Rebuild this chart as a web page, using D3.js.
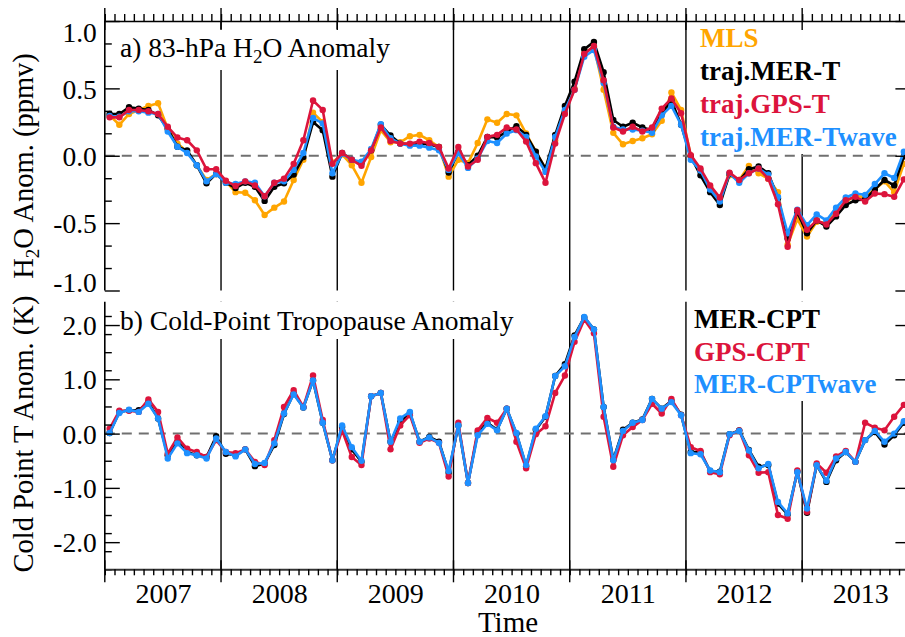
<!doctype html>
<html>
<head>
<style>
  body { margin: 0; background: #fff; }
  svg { display: block; }
  text { font-family: "Liberation Serif", "Times New Roman", serif; }
</style>
<script src="https://d3js.org/d3.v7.min.js"></script>
</head>
<body>
<svg width="905" height="637"></svg>
<script>
// ---- data (monthly anomalies, Jan 2007 - Dec 2013) ----
var startYear = 2007, endYear = 2014;
var yearLabels = ["2007", "2008", "2009", "2010", "2011", "2012", "2013"];
var ticksA = [-1.0, -0.5, 0.0, 0.5, 1.0];
var ticksB = [-2.0, -1.0, 0.0, 1.0, 2.0];

var mls = [
  0.30, 0.23, 0.31, 0.34, 0.37, 0.39, 0.20, 0.09, 0.03, -0.07, -0.18, -0.135,
  -0.19, -0.27, -0.275, -0.33, -0.44, -0.385, -0.34, -0.18, -0.03, 0.32, 0.25, -0.05,
  0.01, -0.07, -0.20, -0.01, 0.19, 0.10, 0.10, 0.145, 0.155, 0.115, 0.065, -0.155,
  -0.03, -0.055, 0.095, 0.27, 0.245, 0.31, 0.30, 0.165, 0.03, -0.095, 0.115, 0.33,
  0.50, 0.76, 0.81, 0.49, 0.17, 0.085, 0.11, 0.13, 0.16, 0.26, 0.47, 0.34,
  0.0, -0.105, -0.23, -0.33, -0.145, -0.18, -0.075, -0.13, -0.17, -0.27, -0.66, -0.47,
  -0.60, -0.49, -0.50, -0.415, -0.34, -0.30, -0.305, -0.25, -0.19, -0.27, -0.06, 0.02
];
var merT = [
  0.31, 0.31, 0.36, 0.35, 0.34, 0.30, 0.20, 0.067, 0.04, -0.07, -0.205, -0.135,
  -0.20, -0.24, -0.20, -0.23, -0.335, -0.23, -0.205, -0.14, -0.01, 0.25, 0.19, -0.155,
  0.02, -0.03, -0.055, 0.04, 0.23, 0.15, 0.09, 0.085, 0.09, 0.085, 0.065, -0.125,
  0.03, -0.07, 0.0, 0.14, 0.135, 0.18, 0.22, 0.155, 0.03, -0.095, 0.155, 0.37,
  0.55, 0.79, 0.845, 0.62, 0.265, 0.215, 0.245, 0.21, 0.19, 0.315, 0.41, 0.23,
  -0.005, -0.145, -0.27, -0.365, -0.135, -0.185, -0.10, -0.08, -0.13, -0.315, -0.615, -0.42,
  -0.575, -0.48, -0.525, -0.45, -0.365, -0.33, -0.325, -0.25, -0.18, -0.22, -0.005, 0.05
];
var gpsT = [
  0.285, 0.285, 0.34, 0.34, 0.33, 0.31, 0.215, 0.135, 0.115, 0.04, -0.10, -0.10,
  -0.185, -0.225, -0.19, -0.22, -0.30, -0.20, -0.17, -0.06, 0.115, 0.41, 0.34, -0.06,
  0.02, -0.03, -0.075, 0.04, 0.21, 0.11, 0.09, 0.09, 0.105, 0.095, 0.065, -0.095,
  0.065, -0.08, -0.03, 0.14, 0.155, 0.21, 0.195, 0.105, -0.055, -0.20, 0.09, 0.31,
  0.49, 0.755, 0.815, 0.56, 0.21, 0.18, 0.215, 0.18, 0.21, 0.35, 0.425, 0.315,
  0.005, -0.095, -0.22, -0.31, -0.125, -0.18, -0.13, -0.095, -0.17, -0.36, -0.675, -0.405,
  -0.55, -0.48, -0.51, -0.43, -0.33, -0.305, -0.34, -0.28, -0.285, -0.305, -0.175, -0.12
];
var merTwave = [
  0.295, 0.29, 0.33, 0.33, 0.32, 0.31, 0.18, 0.067, 0.02, -0.07, -0.19, -0.135,
  -0.20, -0.21, -0.19, -0.20, -0.30, -0.20, -0.19, -0.105, 0.02, 0.28, 0.24, -0.13,
  0.015, -0.03, -0.045, 0.05, 0.235, 0.13, 0.09, 0.075, 0.075, 0.06, 0.04, -0.105,
  0.02, -0.09, -0.02, 0.11, 0.095, 0.165, 0.19, 0.14, -0.005, -0.12, 0.14, 0.34,
  0.49, 0.735, 0.785, 0.54, 0.215, 0.195, 0.195, 0.185, 0.17, 0.30, 0.37, 0.23,
  -0.03, -0.11, -0.25, -0.34, -0.13, -0.20, -0.13, -0.095, -0.14, -0.305, -0.575, -0.40,
  -0.515, -0.435, -0.48, -0.385, -0.31, -0.28, -0.29, -0.21, -0.13, -0.165, 0.03, 0.09
];

var merCPT = [
  0.01, 0.40, 0.43, 0.43, 0.58, 0.28, -0.40, -0.15, -0.34, -0.40, -0.43, -0.05,
  -0.37, -0.40, -0.29, -0.60, -0.55, -0.21, 0.36, 0.74, 0.48, 0.98, 0.20, -0.49,
  0.12, -0.29, -0.52, 0.69, 0.75, -0.15, 0.21, 0.38, -0.15, -0.06, -0.15, -0.72,
  0.15, -0.91, 0.01, 0.20, 0.07, 0.46, 0.0, -0.60, 0.07, 0.31, 1.06, 1.28,
  1.81, 2.14, 1.92, 0.49, -0.48, 0.07, 0.20, 0.26, 0.64, 0.46, 0.60, 0.35,
  -0.34, -0.34, -0.69, -0.70, -0.01, 0.06, -0.30, -0.61, -0.58, -1.29, -1.49, -0.70,
  -1.46, -0.58, -0.89, -0.49, -0.34, -0.52, -0.12, 0.03, -0.20, -0.03, 0.20, 0.33
];
var gpsCPT = [
  0.09, 0.42, 0.42, 0.40, 0.63, 0.40, -0.37, -0.07, -0.28, -0.34, -0.43, -0.12,
  -0.34, -0.36, -0.29, -0.52, -0.58, -0.12, 0.49, 0.80, 0.49, 1.07, 0.25, -0.49,
  0.06, -0.43, -0.58, 0.69, 0.75, -0.29, 0.15, 0.34, -0.17, -0.09, -0.17, -0.79,
  0.20, -0.91, 0.06, 0.29, 0.20, 0.46, -0.15, -0.64, -0.01, 0.135, 0.75, 1.07,
  1.69, 2.10, 1.85, 0.31, -0.61, -0.03, 0.12, 0.25, 0.55, 0.37, 0.64, 0.34,
  -0.25, -0.32, -0.71, -0.75, -0.03, 0.06, -0.40, -0.72, -0.71, -1.50, -1.57, -0.68,
  -1.44, -0.55, -0.72, -0.42, -0.32, -0.52, 0.20, 0.11, 0.06, 0.31, 0.53, 0.62
];
var merCPTwave = [
  0.01, 0.38, 0.44, 0.40, 0.55, 0.28, -0.46, -0.18, -0.36, -0.40, -0.46, -0.09,
  -0.34, -0.42, -0.29, -0.56, -0.54, -0.18, 0.37, 0.72, 0.48, 0.98, 0.20, -0.49,
  0.15, -0.25, -0.50, 0.69, 0.75, -0.15, 0.28, 0.40, -0.15, -0.07, -0.17, -0.69,
  0.15, -0.91, -0.03, 0.18, 0.06, 0.46, 0.01, -0.58, 0.09, 0.32, 1.06, 1.24,
  1.78, 2.15, 1.92, 0.49, -0.49, 0.05, 0.20, 0.25, 0.64, 0.46, 0.58, 0.34,
  -0.36, -0.38, -0.68, -0.71, -0.01, 0.05, -0.31, -0.64, -0.56, -1.26, -1.47, -0.71,
  -1.38, -0.58, -0.87, -0.46, -0.34, -0.52, -0.12, 0.05, -0.15, 0.0, 0.23, 0.35
];

// mid-month time of each sample
var months = mls.map(function(d, i) { return startYear + (i + 0.5) / 12; });

var seriesA = [
  { name: "MLS", values: mls, color: "#ffa500" },
  { name: "traj.MER-T", values: merT, color: "#000000" },
  { name: "traj.GPS-T", values: gpsT, color: "#dc143c" },
  { name: "traj.MER-Twave", values: merTwave, color: "#1e90ff" }
];
var drawOrderA = [0, 1, 3, 2];
var seriesB = [
  { name: "MER-CPT", values: merCPT, color: "#000000" },
  { name: "GPS-CPT", values: gpsCPT, color: "#dc143c" },
  { name: "MER-CPTwave", values: merCPTwave, color: "#1e90ff" }
];

// ---- layout ----
var svg = d3.select("svg");
var x = d3.scaleLinear().domain([startYear, endYear]).range([104.8, 918.4]);
var yA = d3.scaleLinear().domain([-1, 1]).range([290.5, 21]);
var yB = d3.scaleLinear().domain([-2.5, 2.43]).range([569.3, 301.7]);

var monthTicks = d3.range(startYear * 12, endYear * 12 + 1).map(function(m) { return m / 12; });
var yearTicks = d3.range(startYear, endYear + 1);
var innerYears = d3.range(startYear + 1, endYear);

var gLines = svg.append("g");
var gBoxes = svg.append("g");
var gZero = svg.append("g");
var gData = svg.append("g");
var gAxes = svg.append("g");
var gText = svg.append("g");

function fmt(d) { return d.toFixed(1); }

function panel(y, series, order, ticks, minorStep, opts) {
    var y0 = y.range()[0], y1 = y.range()[1];

    // year separators
    gLines.selectAll(null).data(innerYears).enter().append("line")
        .attr("x1", function(d) { return x(d); }).attr("x2", function(d) { return x(d); })
        .attr("y1", y1).attr("y2", y0)
        .attr("stroke", "#000").attr("stroke-width", 1.4);

    // zero line
    gZero.append("line")
        .attr("x1", x.range()[0]).attr("x2", x.range()[1])
        .attr("y1", y(0)).attr("y2", y(0))
        .attr("stroke", "#707070").attr("stroke-width", 2)
        .attr("stroke-dasharray", "10,7");

    // series
    var line = d3.line().x(function(d, i) { return x(months[i]); }).y(function(d) { return y(d); });
    order.forEach(function(k) {
        var s = series[k];
        var g = gData.append("g");
        g.append("path").datum(s.values)
            .attr("d", line).attr("fill", "none")
            .attr("stroke", s.color).attr("stroke-width", 2.6)
            .attr("stroke-linejoin", "round");
        g.selectAll("circle").data(s.values).enter().append("circle")
            .attr("cx", function(d, i) { return x(months[i]); })
            .attr("cy", function(d) { return y(d); })
            .attr("r", 3.2).attr("fill", s.color);
    });

    // left axis (ticks inside)
    var step = ticks[1] - ticks[0];
    var minor = d3.range(y.domain()[0], y.domain()[1] + 1e-6, minorStep)
        .filter(function(v) { return Math.abs(Math.round(v / step) * step - v) > 1e-6; });
    gAxes.append("g").attr("transform", "translate(" + x.range()[0] + ",0)")
        .call(d3.axisLeft(y).tickValues(minor).tickSizeInner(-7).tickSizeOuter(0).tickFormat(""))
        .call(function(g) { g.select(".domain").remove(); })
        .selectAll("line").attr("stroke-width", 1.4);
    var ax = gAxes.append("g").attr("transform", "translate(" + x.range()[0] + ",0)")
        .call(d3.axisLeft(y).tickValues(ticks).tickSizeInner(-15).tickSizeOuter(0).tickPadding(8).tickFormat(fmt));
    ax.attr("font-size", 27.5).attr("font-family", null);
    ax.select(".domain").attr("d", "M0," + y0 + "V" + y1).attr("stroke-width", 1.6);
    ax.selectAll("line").attr("stroke-width", 1.4);
    ax.selectAll("text").attr("dy", function(d) {
        if (opts.shiftEnds && d === y.domain()[1]) return "0.75em";
        if (opts.shiftEnds && d === y.domain()[0]) return "0.05em";
        return "0.35em";
    });

    // right axis (major ticks only)
    gAxes.append("g").attr("transform", "translate(" + x.range()[1] + ",0)")
        .call(d3.axisRight(y).tickValues(ticks).tickSizeInner(-23).tickSizeOuter(0).tickFormat(""))
        .call(function(g) { g.select(".domain").remove(); })
        .selectAll("line").attr("stroke-width", 1.4);
}

panel(yA, seriesA, drawOrderA, ticksA, 0.5 / 3, { shiftEnds: true });
panel(yB, seriesB, [0, 1, 2], ticksB, 1 / 3, { shiftEnds: false });

// top time axis of panel a
var topAx = gAxes.append("g").attr("transform", "translate(0," + yA.range()[1] + ")")
    .call(d3.axisTop(x).tickValues(monthTicks).tickSizeInner(7).tickSizeOuter(0).tickFormat(""));
topAx.select(".domain").attr("stroke-width", 1.6);
topAx.selectAll("line").attr("stroke-width", 1.4);
gAxes.append("g").selectAll("line").data(yearTicks).enter().append("line")
    .attr("x1", function(d) { return x(d); }).attr("x2", function(d) { return x(d); })
    .attr("y1", yA.range()[1] - 13).attr("y2", yA.range()[1] + 9)
    .attr("stroke", "#000").attr("stroke-width", 1.4);

// bottom time axis of panel b
var botAx = gAxes.append("g").attr("transform", "translate(0," + yB.range()[0] + ")")
    .call(d3.axisBottom(x).tickValues(monthTicks).tickSizeInner(6).tickSizeOuter(0).tickFormat(""));
botAx.select(".domain").attr("stroke", "#333").attr("stroke-width", 2);
botAx.selectAll("line").attr("stroke-width", 1.4);
gAxes.append("g").selectAll("line").data(yearTicks).enter().append("line")
    .attr("x1", function(d) { return x(d); }).attr("x2", function(d) { return x(d); })
    .attr("y1", yB.range()[0] - 9).attr("y2", yB.range()[0] + 13)
    .attr("stroke", "#000").attr("stroke-width", 1.4);

var yrAx = gAxes.append("g").attr("transform", "translate(0," + yB.range()[0] + ")")
    .call(d3.axisBottom(x).tickValues(yearLabels.map(function(d) { return +d + 0.5; }))
        .tickSize(0).tickPadding(14).tickFormat(function(d) { return String(Math.floor(d)); }));
yrAx.attr("font-size", 28).attr("font-family", null);
yrAx.select(".domain").remove();

// axis titles
gText.append("text").attr("x", 508).attr("y", 632).attr("text-anchor", "middle")
    .attr("font-size", 29).text("Time");

var tA = gText.append("text").attr("transform", "translate(33,166) rotate(-90)")
    .attr("text-anchor", "middle").attr("font-size", 28.5);
tA.append("tspan").text("H");
tA.append("tspan").attr("font-size", 19).attr("dy", 6).text("2");
tA.append("tspan").attr("dy", -6).text("O Anom. (ppmv)");

gText.append("text").attr("transform", "translate(33,434) rotate(-90)")
    .attr("text-anchor", "middle").attr("font-size", 28.5).text("Cold Point T Anom. (K)");

// panel titles with white background
function boxed(node, pad) {
    var b = node.getBBox();
    gBoxes.append("rect").attr("x", b.x - pad).attr("y", b.y - pad)
        .attr("width", b.width + 2 * pad).attr("height", b.height + 2 * pad)
        .attr("fill", "#fff");
}

var titleA = gText.append("text").attr("x", 120).attr("y", 57).attr("font-size", 27.5);
titleA.append("tspan").text("a) 83-hPa H");
titleA.append("tspan").attr("font-size", 19).attr("dy", 6).text("2");
titleA.append("tspan").attr("dy", -6).text("O Anomaly");
boxed(titleA.node(), 3);

var titleB = gText.append("text").attr("x", 120).attr("y", 330).attr("font-size", 27.5)
    .text("b) Cold-Point Tropopause Anomaly");
boxed(titleB.node(), 3);

// legends
function legend(series, lx, ly, dy) {
    var g = gText.append("g");
    g.selectAll("text").data(series).enter().append("text")
        .attr("x", lx).attr("y", function(d, i) { return ly + i * dy; })
        .attr("font-size", 27).attr("font-weight", "bold")
        .attr("fill", function(d) { return d.color; })
        .text(function(d) { return d.name; });
    boxed(g.node(), 2);
}
legend(seriesA, 700, 47, 33);
legend(seriesB, 694, 328, 32.5);
</script>
</body>
</html>
